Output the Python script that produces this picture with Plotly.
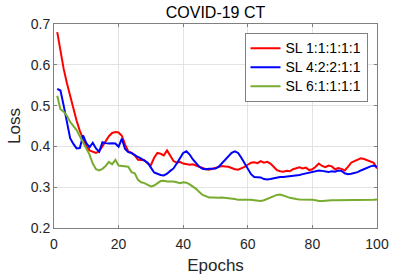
import plotly.graph_objects as go

epochs = list(range(1, 101))

sl_11111 = [0.680, 0.630, 0.590, 0.555, 0.522, 0.492, 0.463, 0.438, 0.420, 0.400,
            0.390, 0.386, 0.384, 0.388, 0.400, 0.412, 0.425, 0.433, 0.435, 0.434,
            0.426, 0.405, 0.388, 0.384, 0.378, 0.367, 0.366, 0.366, 0.358, 0.354,
            0.372, 0.384, 0.382, 0.378, 0.390, 0.376, 0.364, 0.360, 0.362, 0.358,
            0.356, 0.355, 0.356, 0.353, 0.350, 0.347, 0.344, 0.343, 0.345, 0.348,
            0.350, 0.352, 0.351, 0.350, 0.347, 0.344, 0.343, 0.346, 0.350, 0.355,
            0.360, 0.361, 0.359, 0.364, 0.360, 0.362, 0.358, 0.350, 0.342, 0.339,
            0.338, 0.340, 0.339, 0.344, 0.347, 0.349, 0.346, 0.348, 0.342, 0.344,
            0.350, 0.358, 0.352, 0.349, 0.353, 0.351, 0.344, 0.347, 0.345, 0.341,
            0.350, 0.360, 0.364, 0.368, 0.371, 0.369, 0.366, 0.364, 0.360, 0.346]

sl_42211 = [0.541, 0.537, 0.500, 0.462, 0.420, 0.406, 0.395, 0.396, 0.427, 0.408,
            0.398, 0.409, 0.395, 0.387, 0.410, 0.408, 0.407, 0.408, 0.407, 0.399,
            0.419, 0.394, 0.386, 0.384, 0.378, 0.374, 0.370, 0.366, 0.360, 0.348,
            0.336, 0.333, 0.330, 0.329, 0.333, 0.340, 0.346, 0.358, 0.372, 0.384,
            0.388, 0.380, 0.368, 0.358, 0.350, 0.345, 0.344, 0.345, 0.346, 0.346,
            0.350, 0.358, 0.367, 0.376, 0.384, 0.388, 0.384, 0.372, 0.358, 0.344,
            0.332, 0.325, 0.324, 0.324, 0.320, 0.319, 0.320, 0.322, 0.323, 0.325,
            0.325, 0.326, 0.326, 0.328, 0.329, 0.330, 0.332, 0.334, 0.336, 0.338,
            0.340, 0.341, 0.340, 0.338, 0.337, 0.339, 0.338, 0.341, 0.340, 0.334,
            0.332, 0.333, 0.335, 0.337, 0.341, 0.345, 0.349, 0.351, 0.353, 0.350]

sl_61111 = [0.524, 0.491, 0.485, 0.475, 0.460, 0.450, 0.440, 0.425, 0.410, 0.395,
            0.380, 0.358, 0.344, 0.341, 0.345, 0.352, 0.362, 0.356, 0.367, 0.353,
            0.352, 0.351, 0.350, 0.337, 0.334, 0.318, 0.312, 0.310, 0.306, 0.302,
            0.304, 0.310, 0.315, 0.316, 0.314, 0.314, 0.314, 0.312, 0.310, 0.312,
            0.311, 0.307, 0.302, 0.296, 0.288, 0.281, 0.278, 0.275, 0.275, 0.274,
            0.274, 0.275, 0.274, 0.274, 0.273, 0.271, 0.269, 0.269, 0.270, 0.269,
            0.269, 0.268, 0.267, 0.266, 0.268, 0.271, 0.274, 0.278, 0.281, 0.282,
            0.280, 0.277, 0.274, 0.272, 0.271, 0.270, 0.270, 0.270, 0.270, 0.269,
            0.268, 0.266, 0.266, 0.267, 0.267, 0.268, 0.268, 0.268, 0.268, 0.269,
            0.269, 0.269, 0.269, 0.269, 0.269, 0.269, 0.269, 0.269, 0.269, 0.270]

series_names = ["SL 1:1:1:1:1", "SL 4:2:2:1:1", "SL 6:1:1:1:1"]
series_colors = ["#ff0000", "#0000ff", "#77ac30"]
x_ticks = [0, 20, 40, 60, 80, 100]
y_ticks = [0.2, 0.3, 0.4, 0.5, 0.6, 0.7]

FONT = "Liberation Sans, Arial, Helvetica, sans-serif"

fig = go.Figure()
for name, vals, col in zip(series_names, [sl_11111, sl_42211, sl_61111], series_colors):
    fig.add_trace(go.Scatter(x=epochs, y=vals, mode="lines",
                             name='<span style="font-size:14px">' + name + '</span>',
                             line=dict(color=col, width=2)))

axis_common = dict(
    showline=True, linecolor="#808080", linewidth=1, mirror="ticks",
    ticks="inside", ticklen=3, tickcolor="#808080",
    showgrid=True, gridcolor="#e3e3e3", gridwidth=1, zeroline=False,
    tickfont=dict(family=FONT, size=14, color="#262626"),
    automargin=False,
)

fig.update_layout(
    width=415, height=275,
    margin=dict(l=54, r=38, t=24, b=47),
    paper_bgcolor="white", plot_bgcolor="white",
    font=dict(family=FONT, color="#262626"),
    title=dict(text="COVID-19 CT", x=0.5, xref="paper", xanchor="center",
               y=1 - 12.5 / 275, yref="container", yanchor="middle",
               font=dict(size=16, family=FONT, color="#000000", weight="normal")),
    xaxis=dict(range=[0, 100], tickvals=x_ticks, ticklabelstandoff=3,
               title=dict(text="Epochs", font=dict(size=17, family=FONT, color="#262626"), standoff=8),
               **axis_common),
    yaxis=dict(range=[0.2, 0.7], tickvals=y_ticks, tickformat=".1f",
               title=dict(text="Loss", font=dict(size=17, family=FONT, color="#262626"), standoff=5),
               **axis_common),
    legend=dict(x=0.9706, y=0.957, xanchor="right", yanchor="top",
                bgcolor="white", bordercolor="#808080", borderwidth=1,
                font=dict(family=FONT, size=12, color="#000000"),
                tracegroupgap=0, itemwidth=30),
    showlegend=True,
)

fig.write_html("out.html", config={"displayModeBar": False},
               post_script="document.body.style.margin='0';document.body.style.overflow='hidden';")
